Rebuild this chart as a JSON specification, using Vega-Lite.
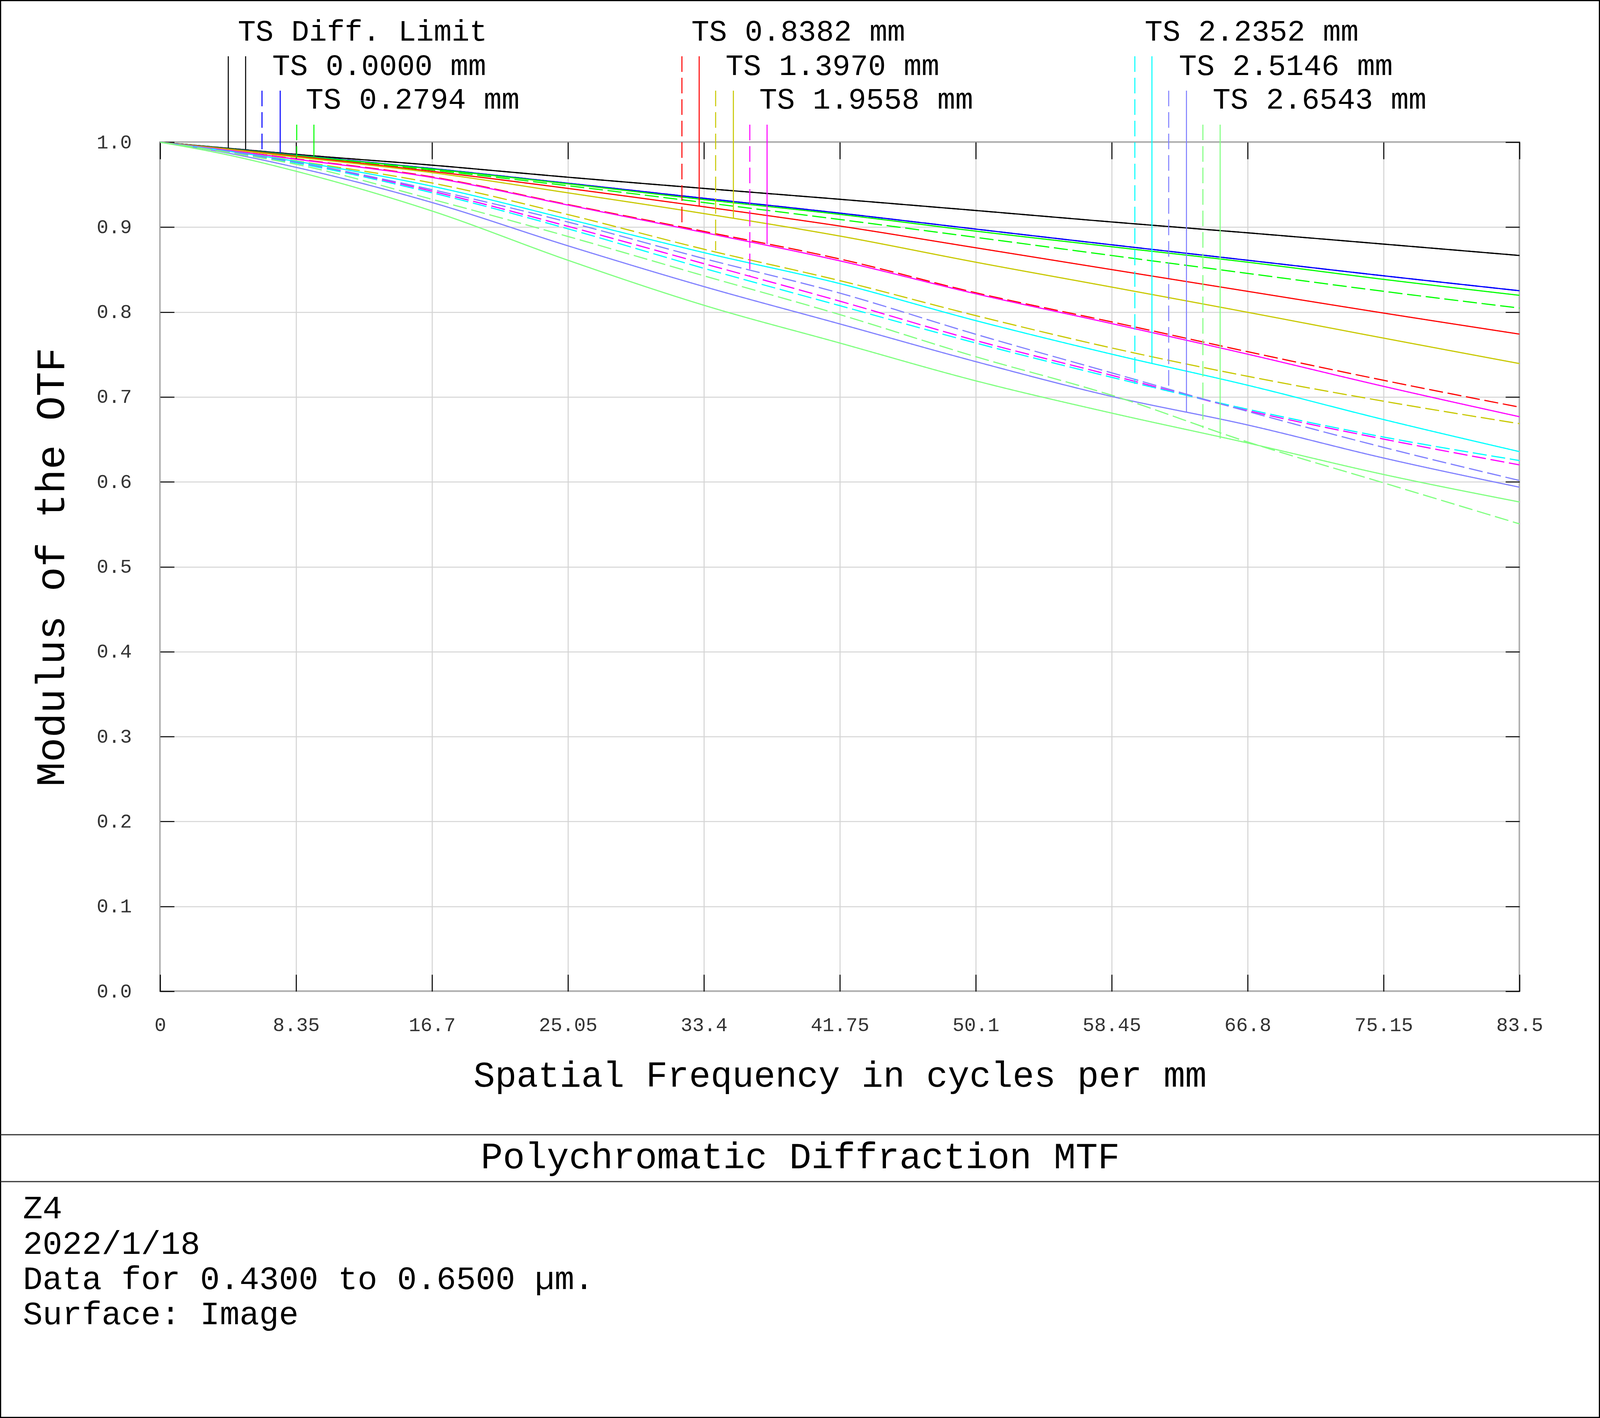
{
  "$schema": "https://vega.github.io/schema/vega-lite/v6.json",
  "width": 3480,
  "height": 2173,
  "autosize": {"type": "none"},
  "padding": {"left": 410, "top": 364, "right": 206, "bottom": 1092},
  "background": "white",
  "config": {
    "view": {"stroke": "black", "strokeWidth": 3},
    "font": "Liberation Mono",
    "axis": {"labelFont": "Liberation Mono", "titleFont": "Liberation Mono"},
    "text": {"font": "Liberation Mono"}
  },
  "datasets": {
    "frame": [
      {"x": -9.802, "x2": 88.408, "y": 1.16682, "y2": -0.50184}
    ],
    "seps": [
      {"x": -9.802, "x2": 88.408, "y": -0.1689},
      {"x": -9.802, "x2": 88.408, "y": -0.2241}
    ],
    "curves": [
      {"field":"Diff. Limit","type":"T","f":0,"mtf":1},{"field":"Diff. Limit","type":"T","f":4.175,"mtf":0.9929},{"field":"Diff. Limit","type":"T","f":8.35,"mtf":0.9857},{"field":"Diff. Limit","type":"T","f":16.7,"mtf":0.973},{"field":"Diff. Limit","type":"T","f":25.05,"mtf":0.9588},{"field":"Diff. Limit","type":"T","f":33.4,"mtf":0.9456},{"field":"Diff. Limit","type":"T","f":41.75,"mtf":0.9328},{"field":"Diff. Limit","type":"T","f":50.1,"mtf":0.9196},{"field":"Diff. Limit","type":"T","f":58.45,"mtf":0.9061},{"field":"Diff. Limit","type":"T","f":66.8,"mtf":0.8933},{"field":"Diff. Limit","type":"T","f":75.15,"mtf":0.88},{"field":"Diff. Limit","type":"T","f":83.5,"mtf":0.8666},
      {"field":"Diff. Limit","type":"S","f":0,"mtf":1},{"field":"Diff. Limit","type":"S","f":4.175,"mtf":0.9929},{"field":"Diff. Limit","type":"S","f":8.35,"mtf":0.9857},{"field":"Diff. Limit","type":"S","f":16.7,"mtf":0.973},{"field":"Diff. Limit","type":"S","f":25.05,"mtf":0.9588},{"field":"Diff. Limit","type":"S","f":33.4,"mtf":0.9456},{"field":"Diff. Limit","type":"S","f":41.75,"mtf":0.9328},{"field":"Diff. Limit","type":"S","f":50.1,"mtf":0.9196},{"field":"Diff. Limit","type":"S","f":58.45,"mtf":0.9061},{"field":"Diff. Limit","type":"S","f":66.8,"mtf":0.8933},{"field":"Diff. Limit","type":"S","f":75.15,"mtf":0.88},{"field":"Diff. Limit","type":"S","f":83.5,"mtf":0.8666},
      {"field":"0.0000 mm","type":"T","f":0,"mtf":1},{"field":"0.0000 mm","type":"T","f":4.175,"mtf":0.9924},{"field":"0.0000 mm","type":"T","f":8.35,"mtf":0.9848},{"field":"0.0000 mm","type":"T","f":16.7,"mtf":0.969},{"field":"0.0000 mm","type":"T","f":25.05,"mtf":0.9517},{"field":"0.0000 mm","type":"T","f":33.4,"mtf":0.934},{"field":"0.0000 mm","type":"T","f":41.75,"mtf":0.9165},{"field":"0.0000 mm","type":"T","f":50.1,"mtf":0.8977},{"field":"0.0000 mm","type":"T","f":58.45,"mtf":0.8792},{"field":"0.0000 mm","type":"T","f":66.8,"mtf":0.861},{"field":"0.0000 mm","type":"T","f":75.15,"mtf":0.8427},{"field":"0.0000 mm","type":"T","f":83.5,"mtf":0.8251},
      {"field":"0.0000 mm","type":"S","f":0,"mtf":1},{"field":"0.0000 mm","type":"S","f":4.175,"mtf":0.9924},{"field":"0.0000 mm","type":"S","f":8.35,"mtf":0.9848},{"field":"0.0000 mm","type":"S","f":16.7,"mtf":0.969},{"field":"0.0000 mm","type":"S","f":25.05,"mtf":0.9517},{"field":"0.0000 mm","type":"S","f":33.4,"mtf":0.934},{"field":"0.0000 mm","type":"S","f":41.75,"mtf":0.9165},{"field":"0.0000 mm","type":"S","f":50.1,"mtf":0.8977},{"field":"0.0000 mm","type":"S","f":58.45,"mtf":0.8792},{"field":"0.0000 mm","type":"S","f":66.8,"mtf":0.861},{"field":"0.0000 mm","type":"S","f":75.15,"mtf":0.8427},{"field":"0.0000 mm","type":"S","f":83.5,"mtf":0.8251},
      {"field":"0.2794 mm","type":"T","f":0,"mtf":1},{"field":"0.2794 mm","type":"T","f":4.175,"mtf":0.9923},{"field":"0.2794 mm","type":"T","f":8.35,"mtf":0.9845},{"field":"0.2794 mm","type":"T","f":16.7,"mtf":0.9685},{"field":"0.2794 mm","type":"T","f":25.05,"mtf":0.951},{"field":"0.2794 mm","type":"T","f":33.4,"mtf":0.9325},{"field":"0.2794 mm","type":"T","f":41.75,"mtf":0.915},{"field":"0.2794 mm","type":"T","f":50.1,"mtf":0.8953},{"field":"0.2794 mm","type":"T","f":58.45,"mtf":0.8769},{"field":"0.2794 mm","type":"T","f":66.8,"mtf":0.8587},{"field":"0.2794 mm","type":"T","f":75.15,"mtf":0.8385},{"field":"0.2794 mm","type":"T","f":83.5,"mtf":0.8197},
      {"field":"0.2794 mm","type":"S","f":0,"mtf":1},{"field":"0.2794 mm","type":"S","f":4.175,"mtf":0.9921},{"field":"0.2794 mm","type":"S","f":8.35,"mtf":0.984},{"field":"0.2794 mm","type":"S","f":16.7,"mtf":0.9672},{"field":"0.2794 mm","type":"S","f":25.05,"mtf":0.9488},{"field":"0.2794 mm","type":"S","f":33.4,"mtf":0.929},{"field":"0.2794 mm","type":"S","f":41.75,"mtf":0.909},{"field":"0.2794 mm","type":"S","f":50.1,"mtf":0.888},{"field":"0.2794 mm","type":"S","f":58.45,"mtf":0.8666},{"field":"0.2794 mm","type":"S","f":66.8,"mtf":0.8455},{"field":"0.2794 mm","type":"S","f":75.15,"mtf":0.8244},{"field":"0.2794 mm","type":"S","f":83.5,"mtf":0.8047},
      {"field":"0.8382 mm","type":"T","f":0,"mtf":1},{"field":"0.8382 mm","type":"T","f":4.175,"mtf":0.9919},{"field":"0.8382 mm","type":"T","f":8.35,"mtf":0.9835},{"field":"0.8382 mm","type":"T","f":16.7,"mtf":0.9657},{"field":"0.8382 mm","type":"T","f":25.05,"mtf":0.9456},{"field":"0.8382 mm","type":"T","f":33.4,"mtf":0.924},{"field":"0.8382 mm","type":"T","f":41.75,"mtf":0.9013},{"field":"0.8382 mm","type":"T","f":50.1,"mtf":0.8757},{"field":"0.8382 mm","type":"T","f":58.45,"mtf":0.85},{"field":"0.8382 mm","type":"T","f":66.8,"mtf":0.8244},{"field":"0.8382 mm","type":"T","f":75.15,"mtf":0.7988},{"field":"0.8382 mm","type":"T","f":83.5,"mtf":0.774},
      {"field":"0.8382 mm","type":"S","f":0,"mtf":1},{"field":"0.8382 mm","type":"S","f":4.175,"mtf":0.9906},{"field":"0.8382 mm","type":"S","f":8.35,"mtf":0.9804},{"field":"0.8382 mm","type":"S","f":16.7,"mtf":0.9592},{"field":"0.8382 mm","type":"S","f":25.05,"mtf":0.9266},{"field":"0.8382 mm","type":"S","f":33.4,"mtf":0.895},{"field":"0.8382 mm","type":"S","f":41.75,"mtf":0.8625},{"field":"0.8382 mm","type":"S","f":50.1,"mtf":0.8227},{"field":"0.8382 mm","type":"S","f":58.45,"mtf":0.7884},{"field":"0.8382 mm","type":"S","f":66.8,"mtf":0.7533},{"field":"0.8382 mm","type":"S","f":75.15,"mtf":0.7196},{"field":"0.8382 mm","type":"S","f":83.5,"mtf":0.688},
      {"field":"1.3970 mm","type":"T","f":0,"mtf":1},{"field":"1.3970 mm","type":"T","f":4.175,"mtf":0.9915},{"field":"1.3970 mm","type":"T","f":8.35,"mtf":0.9825},{"field":"1.3970 mm","type":"T","f":16.7,"mtf":0.9642},{"field":"1.3970 mm","type":"T","f":25.05,"mtf":0.9404},{"field":"1.3970 mm","type":"T","f":33.4,"mtf":0.916},{"field":"1.3970 mm","type":"T","f":41.75,"mtf":0.8895},{"field":"1.3970 mm","type":"T","f":50.1,"mtf":0.8587},{"field":"1.3970 mm","type":"T","f":58.45,"mtf":0.8294},{"field":"1.3970 mm","type":"T","f":66.8,"mtf":0.7997},{"field":"1.3970 mm","type":"T","f":75.15,"mtf":0.7693},{"field":"1.3970 mm","type":"T","f":83.5,"mtf":0.7393},
      {"field":"1.3970 mm","type":"S","f":0,"mtf":1},{"field":"1.3970 mm","type":"S","f":4.175,"mtf":0.9898},{"field":"1.3970 mm","type":"S","f":8.35,"mtf":0.978},{"field":"1.3970 mm","type":"S","f":16.7,"mtf":0.952},{"field":"1.3970 mm","type":"S","f":25.05,"mtf":0.9148},{"field":"1.3970 mm","type":"S","f":33.4,"mtf":0.874},{"field":"1.3970 mm","type":"S","f":41.75,"mtf":0.837},{"field":"1.3970 mm","type":"S","f":50.1,"mtf":0.7958},{"field":"1.3970 mm","type":"S","f":58.45,"mtf":0.7577},{"field":"1.3970 mm","type":"S","f":66.8,"mtf":0.7243},{"field":"1.3970 mm","type":"S","f":75.15,"mtf":0.695},{"field":"1.3970 mm","type":"S","f":83.5,"mtf":0.6685},
      {"field":"1.9558 mm","type":"T","f":0,"mtf":1},{"field":"1.9558 mm","type":"T","f":4.175,"mtf":0.9905},{"field":"1.9558 mm","type":"T","f":8.35,"mtf":0.98},{"field":"1.9558 mm","type":"T","f":16.7,"mtf":0.9585},{"field":"1.9558 mm","type":"T","f":25.05,"mtf":0.926},{"field":"1.9558 mm","type":"T","f":33.4,"mtf":0.8937},{"field":"1.9558 mm","type":"T","f":41.75,"mtf":0.8603},{"field":"1.9558 mm","type":"T","f":50.1,"mtf":0.8215},{"field":"1.9558 mm","type":"T","f":58.45,"mtf":0.7864},{"field":"1.9558 mm","type":"T","f":66.8,"mtf":0.7504},{"field":"1.9558 mm","type":"T","f":75.15,"mtf":0.7125},{"field":"1.9558 mm","type":"T","f":83.5,"mtf":0.6767},
      {"field":"1.9558 mm","type":"S","f":0,"mtf":1},{"field":"1.9558 mm","type":"S","f":4.175,"mtf":0.9888},{"field":"1.9558 mm","type":"S","f":8.35,"mtf":0.976},{"field":"1.9558 mm","type":"S","f":16.7,"mtf":0.9423},{"field":"1.9558 mm","type":"S","f":25.05,"mtf":0.901},{"field":"1.9558 mm","type":"S","f":33.4,"mtf":0.857},{"field":"1.9558 mm","type":"S","f":41.75,"mtf":0.8128},{"field":"1.9558 mm","type":"S","f":50.1,"mtf":0.7665},{"field":"1.9558 mm","type":"S","f":58.45,"mtf":0.7255},{"field":"1.9558 mm","type":"S","f":66.8,"mtf":0.684},{"field":"1.9558 mm","type":"S","f":75.15,"mtf":0.6504},{"field":"1.9558 mm","type":"S","f":83.5,"mtf":0.62},
      {"field":"2.2352 mm","type":"T","f":0,"mtf":1},{"field":"2.2352 mm","type":"T","f":4.175,"mtf":0.9895},{"field":"2.2352 mm","type":"T","f":8.35,"mtf":0.9775},{"field":"2.2352 mm","type":"T","f":16.7,"mtf":0.9482},{"field":"2.2352 mm","type":"T","f":25.05,"mtf":0.9095},{"field":"2.2352 mm","type":"T","f":33.4,"mtf":0.87},{"field":"2.2352 mm","type":"T","f":41.75,"mtf":0.8335},{"field":"2.2352 mm","type":"T","f":50.1,"mtf":0.7899},{"field":"2.2352 mm","type":"T","f":58.45,"mtf":0.7504},{"field":"2.2352 mm","type":"T","f":66.8,"mtf":0.7138},{"field":"2.2352 mm","type":"T","f":75.15,"mtf":0.6734},{"field":"2.2352 mm","type":"T","f":83.5,"mtf":0.6356},
      {"field":"2.2352 mm","type":"S","f":0,"mtf":1},{"field":"2.2352 mm","type":"S","f":4.175,"mtf":0.9886},{"field":"2.2352 mm","type":"S","f":8.35,"mtf":0.9755},{"field":"2.2352 mm","type":"S","f":16.7,"mtf":0.9405},{"field":"2.2352 mm","type":"S","f":25.05,"mtf":0.898},{"field":"2.2352 mm","type":"S","f":33.4,"mtf":0.8515},{"field":"2.2352 mm","type":"S","f":41.75,"mtf":0.8075},{"field":"2.2352 mm","type":"S","f":50.1,"mtf":0.7635},{"field":"2.2352 mm","type":"S","f":58.45,"mtf":0.7231},{"field":"2.2352 mm","type":"S","f":66.8,"mtf":0.6855},{"field":"2.2352 mm","type":"S","f":75.15,"mtf":0.6528},{"field":"2.2352 mm","type":"S","f":83.5,"mtf":0.6251},
      {"field":"2.5146 mm","type":"T","f":0,"mtf":1},{"field":"2.5146 mm","type":"T","f":4.175,"mtf":0.9872},{"field":"2.5146 mm","type":"T","f":8.35,"mtf":0.9704},{"field":"2.5146 mm","type":"T","f":16.7,"mtf":0.929},{"field":"2.5146 mm","type":"T","f":25.05,"mtf":0.878},{"field":"2.5146 mm","type":"T","f":33.4,"mtf":0.83},{"field":"2.5146 mm","type":"T","f":41.75,"mtf":0.786},{"field":"2.5146 mm","type":"T","f":50.1,"mtf":0.7416},{"field":"2.5146 mm","type":"T","f":58.45,"mtf":0.7006},{"field":"2.5146 mm","type":"T","f":66.8,"mtf":0.667},{"field":"2.5146 mm","type":"T","f":75.15,"mtf":0.6281},{"field":"2.5146 mm","type":"T","f":83.5,"mtf":0.5937},
      {"field":"2.5146 mm","type":"S","f":0,"mtf":1},{"field":"2.5146 mm","type":"S","f":4.175,"mtf":0.989},{"field":"2.5146 mm","type":"S","f":8.35,"mtf":0.9765},{"field":"2.5146 mm","type":"S","f":16.7,"mtf":0.9441},{"field":"2.5146 mm","type":"S","f":25.05,"mtf":0.906},{"field":"2.5146 mm","type":"S","f":33.4,"mtf":0.863},{"field":"2.5146 mm","type":"S","f":41.75,"mtf":0.8223},{"field":"2.5146 mm","type":"S","f":50.1,"mtf":0.7738},{"field":"2.5146 mm","type":"S","f":58.45,"mtf":0.7284},{"field":"2.5146 mm","type":"S","f":66.8,"mtf":0.683},{"field":"2.5146 mm","type":"S","f":75.15,"mtf":0.6406},{"field":"2.5146 mm","type":"S","f":83.5,"mtf":0.6016},
      {"field":"2.6543 mm","type":"T","f":0,"mtf":1},{"field":"2.6543 mm","type":"T","f":4.175,"mtf":0.985},{"field":"2.6543 mm","type":"T","f":8.35,"mtf":0.9658},{"field":"2.6543 mm","type":"T","f":16.7,"mtf":0.919},{"field":"2.6543 mm","type":"T","f":25.05,"mtf":0.861},{"field":"2.6543 mm","type":"T","f":33.4,"mtf":0.808},{"field":"2.6543 mm","type":"T","f":41.75,"mtf":0.7635},{"field":"2.6543 mm","type":"T","f":50.1,"mtf":0.719},{"field":"2.6543 mm","type":"T","f":58.45,"mtf":0.681},{"field":"2.6543 mm","type":"T","f":66.8,"mtf":0.6458},{"field":"2.6543 mm","type":"T","f":75.15,"mtf":0.6087},{"field":"2.6543 mm","type":"T","f":83.5,"mtf":0.5763},
      {"field":"2.6543 mm","type":"S","f":0,"mtf":1},{"field":"2.6543 mm","type":"S","f":4.175,"mtf":0.988},{"field":"2.6543 mm","type":"S","f":8.35,"mtf":0.974},{"field":"2.6543 mm","type":"S","f":16.7,"mtf":0.9328},{"field":"2.6543 mm","type":"S","f":25.05,"mtf":0.889},{"field":"2.6543 mm","type":"S","f":33.4,"mtf":0.8427},{"field":"2.6543 mm","type":"S","f":41.75,"mtf":0.797},{"field":"2.6543 mm","type":"S","f":50.1,"mtf":0.7474},{"field":"2.6543 mm","type":"S","f":58.45,"mtf":0.702},{"field":"2.6543 mm","type":"S","f":66.8,"mtf":0.647},{"field":"2.6543 mm","type":"S","f":75.15,"mtf":0.5988},{"field":"2.6543 mm","type":"S","f":83.5,"mtf":0.5505}
    ],
    "markers": [
      {"field":"Diff. Limit","type":"S","f":4.184,"top":1.1012,"mtf":0.9931},
      {"field":"Diff. Limit","type":"T","f":5.25,"top":1.1012,"mtf":0.9917},
      {"field":"0.0000 mm","type":"S","f":6.256,"top":1.0607,"mtf":0.9896},
      {"field":"0.0000 mm","type":"T","f":7.373,"top":1.0607,"mtf":0.9873},
      {"field":"0.2794 mm","type":"S","f":8.389,"top":1.0207,"mtf":0.982},
      {"field":"0.2794 mm","type":"T","f":9.445,"top":1.0207,"mtf":0.9834},
      {"field":"0.8382 mm","type":"S","f":32.05,"top":1.1012,"mtf":0.9016},
      {"field":"0.8382 mm","type":"T","f":33.11,"top":1.1012,"mtf":0.9248},
      {"field":"1.3970 mm","type":"S","f":34.12,"top":1.0607,"mtf":0.8726},
      {"field":"1.3970 mm","type":"T","f":35.21,"top":1.0607,"mtf":0.9098},
      {"field":"1.9558 mm","type":"S","f":36.22,"top":1.0207,"mtf":0.843},
      {"field":"1.9558 mm","type":"T","f":37.28,"top":1.0207,"mtf":0.88},
      {"field":"2.2352 mm","type":"S","f":59.87,"top":1.1012,"mtf":0.7152},
      {"field":"2.2352 mm","type":"T","f":60.92,"top":1.1012,"mtf":0.7395},
      {"field":"2.5146 mm","type":"S","f":61.95,"top":1.0607,"mtf":0.71},
      {"field":"2.5146 mm","type":"T","f":63.04,"top":1.0607,"mtf":0.6815},
      {"field":"2.6543 mm","type":"S","f":64.05,"top":1.0207,"mtf":0.6634},
      {"field":"2.6543 mm","type":"T","f":65.11,"top":1.0207,"mtf":0.6508}
    ],
    "legendText": [
      {"label":"TS Diff. Limit","f":4.773,"y":1.1197},
      {"label":"TS 0.0000 mm","f":6.886,"y":1.0792},
      {"label":"TS 0.2794 mm","f":8.937,"y":1.0396},
      {"label":"TS 0.8382 mm","f":32.63,"y":1.1197},
      {"label":"TS 1.3970 mm","f":34.73,"y":1.0792},
      {"label":"TS 1.9558 mm","f":36.8,"y":1.0396},
      {"label":"TS 2.2352 mm","f":60.48,"y":1.1197},
      {"label":"TS 2.5146 mm","f":62.58,"y":1.0792},
      {"label":"TS 2.6543 mm","f":64.65,"y":1.0396}
    ],
    "titleText": [
      {"label":"Polychromatic Diffraction MTF","f":39.32,"y":-0.2085}
    ],
    "infoText": [
      {"label":"Z4","f":-8.43,"y":-0.2674},
      {"label":"2022/1/18","f":-8.43,"y":-0.3093},
      {"label":"Data for 0.4300 to 0.6500 µm.","f":-8.43,"y":-0.3507},
      {"label":"Surface: Image","f":-8.43,"y":-0.3921}
    ]
  },
  "layer": [
    {
      "data": {"name": "frame"},
      "mark": {"type": "rect", "filled": false, "stroke": "black", "strokeWidth": 3},
      "encoding": {
        "x": {"field": "x", "type": "quantitative", "scale": {"domain": [0, 83.5], "nice": false, "zero": false}, "axis": null},
        "x2": {"field": "x2"},
        "y": {"field": "y", "type": "quantitative", "scale": {"domain": [0, 1], "nice": false, "zero": false}, "axis": null},
        "y2": {"field": "y2"}
      }
    },
    {
      "data": {"name": "seps"},
      "mark": {"type": "rule", "stroke": "#333333", "strokeWidth": 3},
      "encoding": {
        "x": {"field": "x", "type": "quantitative", "scale": {"domain": [0, 83.5], "nice": false, "zero": false}, "axis": null},
        "x2": {"field": "x2"},
        "y": {"field": "y", "type": "quantitative", "scale": {"domain": [0, 1], "nice": false, "zero": false}, "axis": null}
      }
    },
    {
      "data": {"name": "curves"},
      "mark": {"type": "line", "strokeWidth": 3, "interpolate": "monotone", "strokeCap": "butt"},
      "encoding": {
        "x": {
          "field": "f", "type": "quantitative",
          "scale": {"domain": [0, 83.5], "nice": false, "zero": false},
          "axis": {
            "orient": "bottom",
            "values": [0, 8.35, 16.7, 25.05, 33.4, 41.75, 50.1, 58.45, 66.8, 75.15, 83.5],
            "labelExpr": "datum.value",
            "labelFlush": false, "labelOverlap": false,
            "labelFontSize": 50, "labelColor": "#333333", "labelPadding": 104, "labelBaseline": "top",
            "grid": true, "gridColor": "#d4d4d4", "gridWidth": 2.6,
            "ticks": true, "tickColor": "black", "tickWidth": 2.6, "tickSize": -43,
            "domain": false,
            "title": "Spatial Frequency in cycles per mm",
            "titleFontSize": 92, "titleFontWeight": "normal", "titleColor": "black",
            "titleBaseline": "alphabetic", "titleY": 243
          }
        },
        "y": {
          "field": "mtf", "type": "quantitative",
          "scale": {"domain": [0, 1], "nice": false, "zero": false},
          "axis": {
            "orient": "left",
            "values": [0, 0.1, 0.2, 0.3, 0.4, 0.5, 0.6, 0.7, 0.8, 0.9, 1],
            "format": ".1f",
            "labelFlush": false, "labelOverlap": false,
            "labelFontSize": 50, "labelColor": "#333333", "labelPadding": 109,
            "grid": true, "gridColor": "#d4d4d4", "gridWidth": 2.6,
            "ticks": true, "tickColor": "black", "tickWidth": 2.6, "tickSize": -36,
            "domain": false,
            "title": "Modulus of the OTF",
            "titleFontSize": 104, "titleFontWeight": "normal", "titleColor": "black",
            "titleAngle": -90, "titleBaseline": "alphabetic", "titleX": -247
          }
        },
        "color": {
          "field": "field", "type": "nominal", "legend": null,
          "scale": {
            "domain": ["Diff. Limit","0.0000 mm","0.2794 mm","0.8382 mm","1.3970 mm","1.9558 mm","2.2352 mm","2.5146 mm","2.6543 mm"],
            "range": ["#000000","#0000FF","#00FF00","#FF0000","#C8C800","#FF00FF","#00FFFF","#8080FF","#80FF80"]
          }
        },
        "strokeDash": {
          "field": "type", "type": "nominal", "legend": null,
          "scale": {"domain": ["T", "S"], "range": [[1, 0], [36, 12]]}
        },
        "detail": {"field": "type"}
      }
    },
    {
      "data": {"name": "markers"},
      "mark": {"type": "rule", "strokeWidth": 2.6, "strokeCap": "butt"},
      "encoding": {
        "x": {
          "field": "f", "type": "quantitative",
          "scale": {"domain": [0, 83.5], "nice": false, "zero": false},
          "axis": {
            "orient": "top",
            "values": [0, 8.35, 16.7, 25.05, 33.4, 41.75, 50.1, 58.45, 66.8, 75.15, 83.5],
            "labels": false, "grid": false, "domain": false, "title": null,
            "ticks": true, "tickColor": "black", "tickWidth": 2.6, "tickSize": -43
          }
        },
        "y": {
          "field": "top", "type": "quantitative",
          "scale": {"domain": [0, 1], "nice": false, "zero": false},
          "axis": {
            "orient": "right",
            "values": [0, 0.1, 0.2, 0.3, 0.4, 0.5, 0.6, 0.7, 0.8, 0.9, 1],
            "labels": false, "grid": false, "domain": false, "title": null,
            "ticks": true, "tickColor": "black", "tickWidth": 2.6, "tickSize": -36
          }
        },
        "y2": {"field": "mtf"},
        "color": {
          "field": "field", "type": "nominal", "legend": null,
          "scale": {
            "domain": ["Diff. Limit","0.0000 mm","0.2794 mm","0.8382 mm","1.3970 mm","1.9558 mm","2.2352 mm","2.5146 mm","2.6543 mm"],
            "range": ["#000000","#0000FF","#00FF00","#FF0000","#C8C800","#FF00FF","#00FFFF","#8080FF","#80FF80"]
          }
        },
        "strokeDash": {
          "condition": {"test": "datum.field === 'Diff. Limit'", "value": [1, 0]},
          "field": "type", "type": "nominal", "legend": null,
          "scale": {"domain": ["T", "S"], "range": [[1, 0], [40, 15]]}
        }
      }
    },
    {
      "data": {"name": "legendText"},
      "mark": {"type": "text", "align": "left", "baseline": "alphabetic", "fontSize": 76, "color": "black"},
      "encoding": {
        "x": {"field": "f", "type": "quantitative", "scale": {"domain": [0, 83.5], "nice": false, "zero": false}, "axis": null},
        "y": {"field": "y", "type": "quantitative", "scale": {"domain": [0, 1], "nice": false, "zero": false}, "axis": null},
        "text": {"field": "label"}
      }
    },
    {
      "data": {"name": "titleText"},
      "mark": {"type": "text", "align": "center", "baseline": "alphabetic", "fontSize": 94, "color": "black"},
      "encoding": {
        "x": {"field": "f", "type": "quantitative", "scale": {"domain": [0, 83.5], "nice": false, "zero": false}, "axis": null},
        "y": {"field": "y", "type": "quantitative", "scale": {"domain": [0, 1], "nice": false, "zero": false}, "axis": null},
        "text": {"field": "label"}
      }
    },
    {
      "data": {"name": "infoText"},
      "mark": {"type": "text", "align": "left", "baseline": "alphabetic", "fontSize": 84, "color": "black"},
      "encoding": {
        "x": {"field": "f", "type": "quantitative", "scale": {"domain": [0, 83.5], "nice": false, "zero": false}, "axis": null},
        "y": {"field": "y", "type": "quantitative", "scale": {"domain": [0, 1], "nice": false, "zero": false}, "axis": null},
        "text": {"field": "label"}
      }
    }
  ],
  "resolve": {
    "axis": {"x": "independent", "y": "independent"},
    "scale": {"strokeDash": "independent"}
  }
}
